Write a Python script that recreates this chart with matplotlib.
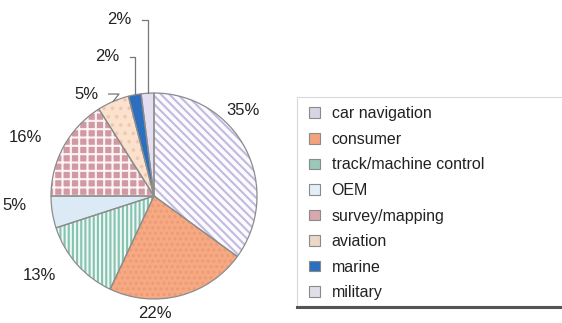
import matplotlib
matplotlib.use('Agg')
import matplotlib.pyplot as plt
import numpy as np
from matplotlib.patches import Rectangle, Patch
from matplotlib.lines import Line2D

plt.rcParams['font.family'] = ['Liberation Sans', 'DejaVu Sans']
plt.rcParams['hatch.linewidth'] = 1.5

# data
categories = ['car navigation', 'consumer', 'track/machine control', 'OEM',
              'survey/mapping', 'aviation', 'marine', 'military']
shares = [35, 22, 13, 5, 16, 5, 2, 2]
pct_labels = ['35%', '22%', '13%', '5%', '16%', '5%', '2%', '2%']

# styles
face_colors = ['#fbfaff', '#f5aa84', '#eef8f4', '#dceaf6', '#d09aa3', '#fbe2cf', '#2c6fbf', '#e4def0']
hatch_colors = ['#c2badf', '#f09a74', '#86c2b0', '#dceaf6', '#fdf3f4', '#f3c9ae', '#2c6fbf', '#e4def0']
hatches = ['\\\\\\\\', '...', '||||', '', '++', '..', '', '']
legend_colors = ['#d8d4e4', '#f2a27e', '#9cc8b8', '#e4eef6', '#d8a8ae', '#ead8c8', '#2c6fbf', '#e2dee8']
# label anchors relative to pie centre, in radii
label_pos = [(0.86, 0.83), (0.01, -1.14), (-1.11, -0.77), (-1.35, -0.09),
             (-1.25, 0.57), (-0.66, 0.99), (-0.45, 1.35), (-0.34, 1.71)]

W, H = 562, 323
fig = plt.figure(figsize=(W / 100, H / 100), dpi=100)
cx, cy, r = 154, 196, 103
ax = fig.add_axes([(cx - r) / W, (H - cy - r) / H, 2 * r / W, 2 * r / H])

wedges, _ = ax.pie(shares, startangle=90, counterclock=False,
                   colors=face_colors, wedgeprops=dict(linewidth=0))
for w, hc, h in zip(wedges, hatch_colors, hatches):
    w.set_hatch(h)
    w.set_edgecolor(hc)
    w.set_linewidth(0)
# outlines
outl, _ = ax.pie(shares, startangle=90, counterclock=False,
                 wedgeprops=dict(fill=False, edgecolor='#8c8c8c', linewidth=0.9))
ax.set_xlim(-1, 1)
ax.set_ylim(-1, 1)

for i, (w, lab, (lx, ly)) in enumerate(zip(wedges, pct_labels, label_pos)):
    ax.text(lx, ly, lab, ha='center', va='center', fontsize=12, color='#222222', clip_on=False)
    mid = np.deg2rad((w.theta1 + w.theta2) / 2)
    ex, ey = np.cos(mid), np.sin(mid)
    if i == 5:
        ax.plot([lx + 0.22, lx + 0.32, ex], [ly, ly, ey],
                color='#777777', lw=0.9, clip_on=False)
    elif i >= 6:
        ax.plot([lx + 0.22, ex, ex], [ly, ly, ey],
                color='#777777', lw=0.9, clip_on=False)

# legend frame
fig.patches.append(Rectangle((297 / W, (H - 306) / H), 280 / W, 209 / H,
                             transform=fig.transFigure, facecolor='white',
                             edgecolor='#d8d8d8', linewidth=0.8, zorder=0))
fig.lines.append(Line2D([297 / W, 1], [(H - 307) / H] * 2, transform=fig.transFigure,
                        color='#555555', linewidth=2.2))

handles = [Patch(facecolor=c, edgecolor='#8a8a8a', linewidth=0.8) for c in legend_colors]
fig.legend(handles, categories, loc='upper left',
           bbox_to_anchor=(303 / W, (H - 100) / H), frameon=False,
           fontsize=11.5, handlelength=0.65, handleheight=0.65, handletextpad=0.75,
           labelspacing=0.66, borderaxespad=0, labelcolor='#222222')

fig.savefig('out.png', dpi=100)
